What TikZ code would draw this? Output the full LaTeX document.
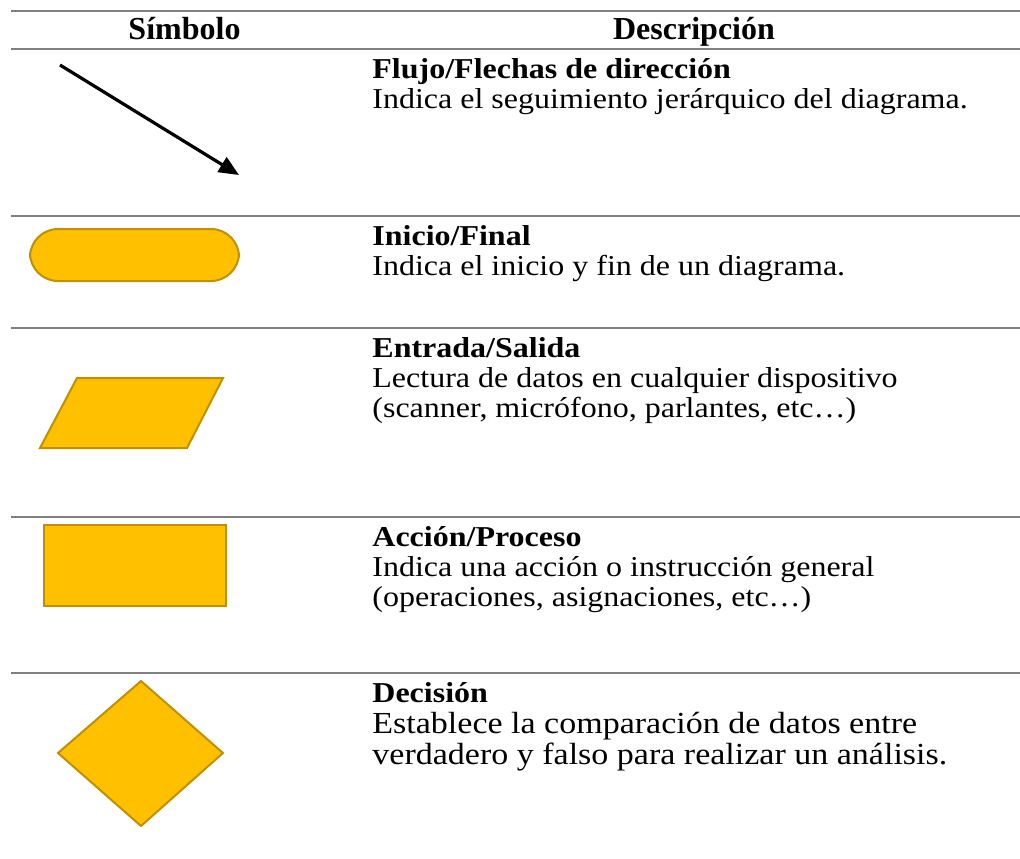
\documentclass[tikz,border=0pt]{standalone}
\usepackage{fontspec}
\setmainfont{Liberation Serif}
\usetikzlibrary{arrows.meta}
\definecolor{gold}{HTML}{FFC000}
\definecolor{golddark}{HTML}{BF9000}
\definecolor{rulegray}{HTML}{808080}
\newcommand\sqtext[1]{\scalebox{1}[0.9]{#1}}
\begin{document}
\begin{tikzpicture}[x=0.5pt,y=-0.5pt,
  rule/.style={draw=rulegray,line width=0.7pt},
  symb/.style={fill=gold,draw=golddark,line width=1pt,line join=miter},
  txt/.style={anchor=base west,inner sep=0pt,font=\fontsize{16pt}{17pt}\selectfont},
  bigtxt/.style={txt,font=\fontsize{17pt}{18pt}\selectfont},
  ttl/.style={txt,font=\fontsize{16pt}{17pt}\selectfont\bfseries},
  hdr/.style={anchor=base,inner sep=0pt,font=\fontsize{16pt}{17pt}\selectfont\bfseries}]
\useasboundingbox (0,0) rectangle (1020,858);
% rules
\draw[rule] (11,11) -- (1020,11);
\draw[rule] (11,49) -- (1020,49);
\draw[rule] (11,216) -- (1020,216);
\draw[rule] (11,328) -- (1020,328);
\draw[rule] (11,517) -- (1020,517);
\draw[rule] (11,673) -- (1020,673);
% header
\node[hdr] (hs) at (184.5,39) {Símbolo};
\node[hdr] (hd) at (694,39) {Descripción};
% arrow
\coordinate (a1) at (60,65);
\coordinate (a2) at (239,175);
\draw[line width=1.6pt,-{Triangle[length=10pt,width=8.5pt]}] (a1) -- (a2);
% terminator
\draw[symb,rounded corners=14pt] (30,229) rectangle (239,281);
% parallelogram
\draw[symb] (77,378) -- (223,378) -- (187,448) -- (40,448) -- cycle;
% process
\draw[symb] (44,525) rectangle (226,606);
% decision
\draw[symb] (141,681) -- (223,753) -- (141,826) -- (58,753) -- cycle;
% texts
\node[ttl] (t1) at (372,78) {\sqtext{Flujo/Flechas de dirección}};
\node[txt] (d1) at (372,108) {\sqtext{Indica el seguimiento jerárquico del diagrama.}};
\node[ttl] (t2) at (372,245) {\sqtext{Inicio/Final}};
\node[txt] (d2) at (372,275) {\sqtext{Indica el inicio y fin de un diagrama.}};
\node[ttl] (t3) at (372,357) {\sqtext{Entrada/Salida}};
\node[txt] (d3a) at (372,387) {\sqtext{Lectura de datos en cualquier dispositivo}};
\node[txt] (d3b) at (372,417) {\sqtext{(scanner, micrófono, parlantes, etc…)}};
\node[ttl] (t4) at (372,546) {\sqtext{Acción/Proceso}};
\node[txt] (d4a) at (372,576) {\sqtext{Indica una acción o instrucción general}};
\node[txt] (d4b) at (372,606) {\sqtext{(operaciones, asignaciones, etc…)}};
\node[ttl] (t5) at (372,702) {\sqtext{Decisión}};
\node[bigtxt] (d5a) at (372,733) {\sqtext{Establece la comparación de datos entre}};
\node[bigtxt] (d5b) at (372,764) {\sqtext{verdadero y falso para realizar un análisis.}};
\end{tikzpicture}
\end{document}
